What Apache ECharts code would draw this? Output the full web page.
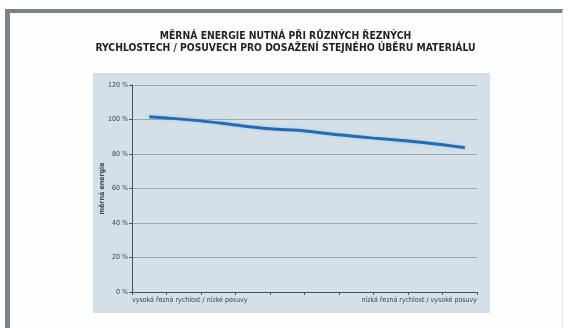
<!DOCTYPE html>
<html>
<head>
<meta charset="utf-8">
<script src="https://cdn.jsdelivr.net/npm/echarts@6/dist/echarts.min.js"></script>
<style>
  html, body { margin: 0; padding: 0; background: #ffffff; }
  #frame {
    position: absolute; left: 5px; top: 9px; width: 552px; height: 330px;
    border-left: 5px solid #7b848a; border-top: 4px solid #7b848a;
    border-right: 1px solid #e6eaec; background: #fcfdfd;
  }
  #panel {
    position: absolute; left: 93px; top: 73px; width: 397px; height: 240px;
    background: #d4dfe7;
  }
  #chart { position: absolute; left: 0; top: 0; width: 571px; height: 328px; }
</style>
</head>
<body>
<div id="frame"></div>
<div id="panel"></div>
<div id="chart"></div>
<script>
(function() {
  // poloha na ose x (0 = vysoká rychlost, 10 = nízká rychlost)
  var xPos = [0.5, 1, 2, 3, 4, 5, 6, 7, 8, 9, 9.65];
  // měrná energie v %
  var energy = [101.6, 100.9, 99.2, 96.8, 94.6, 93.4, 91.1, 89.2, 87.5, 85.4, 83.7];
  var yTicks = [0, 20, 40, 60, 80, 100, 120];
  var xEndLabels = ['vysoká řezná rychlost / nízké posuvy', 'nízká řezná rychlost / vysoké posuvy'];
  var titleLines = ['MĚRNÁ ENERGIE NUTNÁ PŘI RŮZNÝCH ŘEZNÝCH', 'RYCHLOSTECH / POSUVECH PRO DOSAŽENÍ STEJNÉHO ÚBĚRU MATERIÁLU'];

  var narrow = "'Liberation Sans Narrow', 'DejaVu Sans Condensed', sans-serif";
  var ink = '#3c4247';

  var chart = echarts.init(document.getElementById('chart'), null, { renderer: 'canvas' });
  chart.setOption({
    animation: false,
    backgroundColor: 'transparent',
    title: {
      text: titleLines.join('\n'),
      left: 'center',
      top: 25,
      textStyle: { fontFamily: narrow, fontWeight: 'bold', fontSize: 10.3, lineHeight: 12, color: '#1e2225' }
    },
    grid: { left: 132, right: 94, top: 85, bottom: 36 },
    xAxis: {
      type: 'value',
      min: 0,
      max: 10,
      interval: 1,
      axisLine: { lineStyle: { color: '#4a5055', width: 1 } },
      axisTick: { show: true, length: 3, lineStyle: { color: '#4a5055' } },
      splitLine: { show: false },
      axisLabel: {
        fontFamily: narrow,
        fontSize: 7,
        color: ink,
        margin: 5,
        alignMinLabel: 'left',
        alignMaxLabel: 'right',
        formatter: function(v) {
          if (v === 0) return xEndLabels[0];
          if (v === 10) return xEndLabels[1];
          return '';
        }
      }
    },
    yAxis: {
      type: 'value',
      min: yTicks[0],
      max: yTicks[yTicks.length - 1],
      interval: 20,
      name: 'měrná energie',
      nameLocation: 'middle',
      nameRotate: 90,
      nameGap: 26,
      nameMoveOverlap: false,
      nameTextStyle: { fontFamily: narrow, fontSize: 7, fontWeight: 'bold', color: ink },
      axisLine: { show: true, lineStyle: { color: '#4a5055', width: 1 } },
      axisTick: { show: true, length: 3, lineStyle: { color: '#4a5055' } },
      splitLine: { lineStyle: { color: '#9ea8ae', width: 1 } },
      axisLabel: { fontFamily: narrow, fontSize: 7, color: ink, margin: 4, formatter: '{value} %' }
    },
    series: [{
      type: 'line',
      data: xPos.map(function(x, i) { return [x, energy[i]]; }),
      smooth: 0.3,
      showSymbol: false,
      lineStyle: { color: '#246bb0', width: 3, shadowColor: 'rgba(120,190,240,0.6)', shadowBlur: 3 }
    }]
  });
})();
</script>
</body>
</html>
